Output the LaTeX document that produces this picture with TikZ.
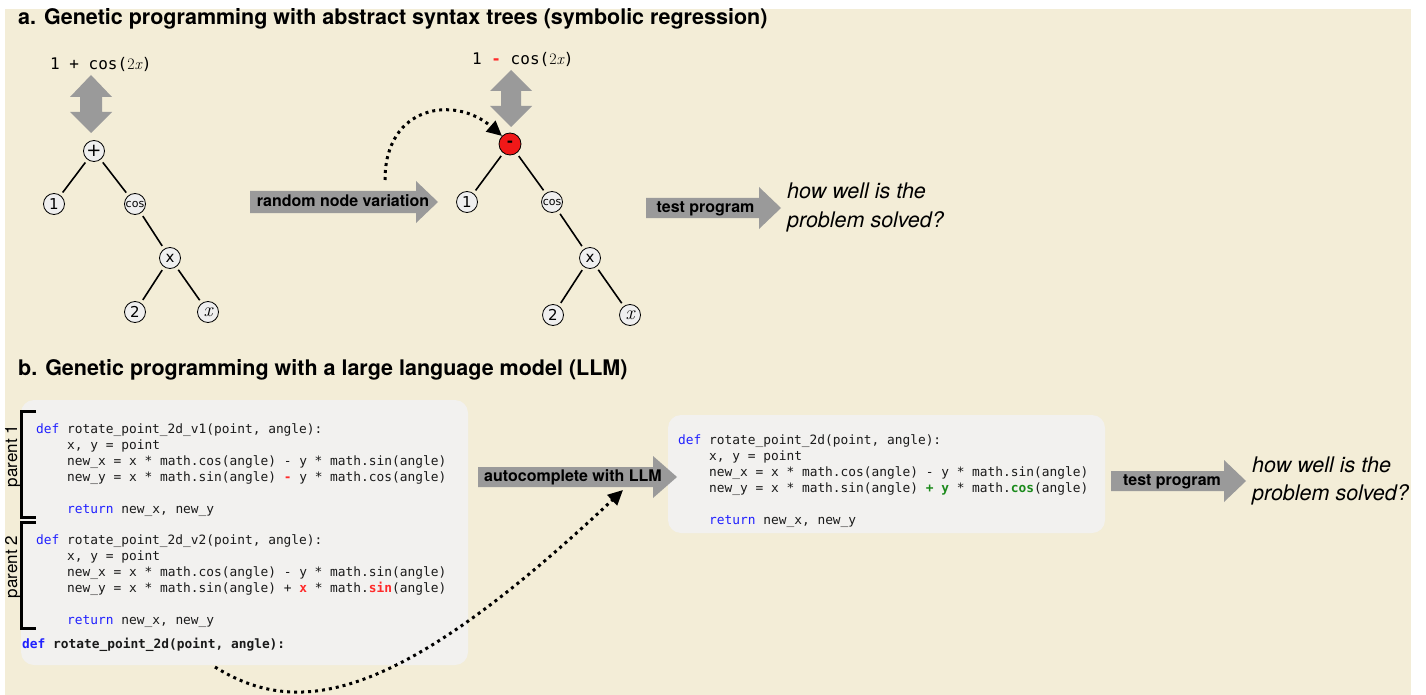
\documentclass[tikz,border=0pt]{standalone}
\usepackage{fontspec}
\usetikzlibrary{arrows.meta}
\newfontfamily\hv{TeX Gyre Heros}
\newfontfamily\dvs{DejaVu Sans}
\newfontfamily\codefont{DejaVu Sans Mono}
\definecolor{bgbeige}{HTML}{F3EDD7}
\definecolor{codebg}{HTML}{F2F1EF}
\definecolor{arrowgrey}{HTML}{9A9A9A}
\definecolor{nodegrey}{HTML}{EFEFEF}
\definecolor{nodered}{HTML}{F01818}
\definecolor{kwblue}{HTML}{2020FF}
\definecolor{hlred}{HTML}{FF2A2A}
\definecolor{hlgreen}{HTML}{1B8A1B}
\definecolor{codeblack}{HTML}{1A1A1A}
\newcommand\kw[1]{\textcolor{kwblue}{#1}}
\newcommand\hlr[1]{\textcolor{hlred}{\bfseries #1}}
\newcommand\hlg[1]{\textcolor{hlgreen}{\bfseries #1}}
\begin{document}
\begin{tikzpicture}[x=1pt,y=-1pt,
  title/.style={font=\hv\bfseries\fontsize{21.5}{24}\selectfont, anchor=base west, inner sep=0pt},
  tnode/.style={circle, draw=black, line width=0.8pt, fill=nodegrey, minimum size=21pt, inner sep=0pt, font=\dvs\fontsize{15}{15}\selectfont},
  tedge/.style={line width=1.6pt, shorten <=3.5pt, shorten >=3.5pt},
  blockarrow/.style={fill=arrowgrey},
  arrowlabel/.style={font=\hv\bfseries\fontsize{16}{18}\selectfont, anchor=base, inner sep=0pt},
  question/.style={font=\hv\itshape\fontsize{21.5}{24}\selectfont, anchor=base west, inner sep=0pt},
  codeline/.style={font=\codefont\fontsize{12.85}{16}\selectfont, anchor=base west, inner sep=0pt, text=codeblack},
  formula/.style={font=\codefont\fontsize{16}{18}\selectfont, anchor=base west, inner sep=0pt},
  dotcurve/.style={line width=3pt, dash pattern=on 3pt off 4pt, -{Triangle[length=15pt,width=14pt]}},
  bracket/.style={line width=3pt},
  codebox/.style={fill=codebg, rounded corners=13pt},
  parentlabel/.style={rotate=90, font=\hv\fontsize{17}{17}\selectfont, inner sep=0pt}
]
\useasboundingbox (0,0) rectangle (1426,695);
\fill[bgbeige] (5,9) rectangle (1411,695);

% ---------- panel a ----------
\node[title] (titlea) at (18,25) {a. Genetic programming with abstract syntax trees (symbolic regression)};

% left tree
\node[formula] (forma) at (50,70) {1 + cos({\rmfamily 2\itshape x})};
\fill[blockarrow] (91,75) -- (112,97) -- (102,97) -- (102,112) -- (112,112) -- (91,133)
  -- (70,112) -- (80,112) -- (80,97) -- (70,97) -- cycle;
\node[tnode, font=\dvs\fontsize{18}{18}\selectfont] (plus) at (94,151) {+};
\node[tnode] (oneA) at (54,204) {1};
\node[tnode, font=\dvs\fontsize{11}{11}\selectfont] (cosA) at (135,204) {cos};
\node[tnode] (mulA) at (170,258) {x};
\node[tnode] (twoA) at (135,312) {2};
\node[tnode, font=\rmfamily\itshape\fontsize{20}{20}\selectfont] (varA) at (208,312) {x};
\draw[tedge] (plus) -- (oneA);
\draw[tedge] (plus) -- (cosA);
\draw[tedge] (cosA) -- (mulA);
\draw[tedge] (mulA) -- (twoA);
\draw[tedge] (mulA) -- (varA);

% random node variation arrow
\fill[blockarrow] (250,191) -- (416,191) -- (416,181) -- (438,202) -- (416,223) -- (416,213) -- (250,213) -- cycle;
\node[arrowlabel] (rnv) at (343,206.5) {random node variation};

% right tree
\node[formula] (formb) at (472,64.5) {1 \hlr{-} cos({\rmfamily 2\itshape x})};
\fill[blockarrow] (511,70) -- (532,91) -- (521,91) -- (521,106) -- (532,106) -- (511,127)
  -- (490,106) -- (501,106) -- (501,91) -- (490,91) -- cycle;
\node[tnode, fill=nodered, minimum size=22pt, font=\dvs\bfseries\fontsize{15}{15}\selectfont] (minus) at (510,144) {-};
\node[tnode] (oneB) at (467,202) {1};
\node[tnode, font=\dvs\fontsize{11}{11}\selectfont] (cosB) at (552,202) {cos};
\node[tnode] (mulB) at (590,258) {x};
\node[tnode] (twoB) at (553,315) {2};
\node[tnode, font=\rmfamily\itshape\fontsize{20}{20}\selectfont] (varB) at (630,315) {x};
\draw[tedge] (minus) -- (oneB);
\draw[tedge] (minus) -- (cosB);
\draw[tedge] (cosB) -- (mulB);
\draw[tedge] (mulB) -- (twoB);
\draw[tedge] (mulB) -- (varB);

\coordinate (mutstart) at (385,180);
\draw[dotcurve] (mutstart) .. controls (385,105) and (455,95) .. (minus.135);

% test program (a)
\fill[blockarrow] (646,198) -- (759,198) -- (759,187) -- (781,208) -- (759,229) -- (759,218) -- (646,218) -- cycle;
\node[arrowlabel] (testa) at (705.5,212.5) {test program};
\node[question] (qa1) at (787,198.5) {how well is the};
\node[question] (qa2) at (787,227.5) {problem solved?};

% ---------- panel b ----------
\node[title] (titleb) at (18,375) {b. Genetic programming with a large language model (LLM)};

\node[codebox, minimum width=447pt, minimum height=265pt, inner sep=0pt] (box1) at (244.5,532.5) {};
\node[codebox, minimum width=437pt, minimum height=118pt, inner sep=0pt] (box2) at (886.5,474) {};

% parent 1
\node[codeline] (p1a) at (36,433) {\kw{def} rotate\_point\_2d\_v1(point, angle):};
\node[codeline] (p1b) at (67,449) {x, y = point};
\node[codeline] (p1c) at (67,465) {new\_x = x * math.cos(angle) - y * math.sin(angle)};
\node[codeline] (p1d) at (67,481) {new\_y = x * math.sin(angle) \hlr{-} y * math.cos(angle)};
\node[codeline] (p1e) at (67,513) {\kw{return} new\_x, new\_y};
% parent 2
\node[codeline] (p2a) at (36,544) {\kw{def} rotate\_point\_2d\_v2(point, angle):};
\node[codeline] (p2b) at (67,560) {x, y = point};
\node[codeline] (p2c) at (67,576) {new\_x = x * math.cos(angle) - y * math.sin(angle)};
\node[codeline] (p2d) at (67,592) {new\_y = x * math.sin(angle) + \hlr{x} * math.\hlr{sin}(angle)};
\node[codeline] (p2e) at (67,624) {\kw{return} new\_x, new\_y};
\node[codeline] (p3) at (22,648.5) {\bfseries\kw{def} rotate\_point\_2d(point, angle):};

% brackets
\draw[bracket] (36,411) -- (21.5,411) -- (21.5,517) -- (36,517);
\draw[bracket] (36,522) -- (21.5,522) -- (21.5,628) -- (36,628);
\node[parentlabel] (lab1) at (13,456) {parent 1};
\node[parentlabel] (lab2) at (13,567) {parent 2};

% child
\node[codeline] (ca) at (678,444) {\kw{def} rotate\_point\_2d(point, angle):};
\node[codeline] (cb) at (709,460) {x, y = point};
\node[codeline] (cc) at (709,476) {new\_x = x * math.cos(angle) - y * math.sin(angle)};
\node[codeline] (cd) at (709,492) {new\_y = x * math.sin(angle) \hlg{+ y} * math.\hlg{cos}(angle)};
\node[codeline] (ce) at (709,524) {\kw{return} new\_x, new\_y};

% autocomplete arrow
\fill[blockarrow] (478,467) -- (653,467) -- (653,456) -- (677,477) -- (653,498) -- (653,487) -- (478,487) -- cycle;
\node[arrowlabel] (auto) at (573,481) {autocomplete with LLM};

\coordinate (codestart) at (215,667);
\coordinate (llmtip) at (623,490);
\draw[dotcurve] (codestart) .. controls (300,720) and (400,700) .. (llmtip);

% test program (b)
\fill[blockarrow] (1111,471) -- (1224,471) -- (1224,460) -- (1246,481) -- (1224,502) -- (1224,491) -- (1111,491) -- cycle;
\node[arrowlabel] (testb) at (1172,485) {test program};
\node[question] (qb1) at (1252,472.5) {how well is the};
\node[question] (qb2) at (1252,500.5) {problem solved?};
\end{tikzpicture}
\end{document}
